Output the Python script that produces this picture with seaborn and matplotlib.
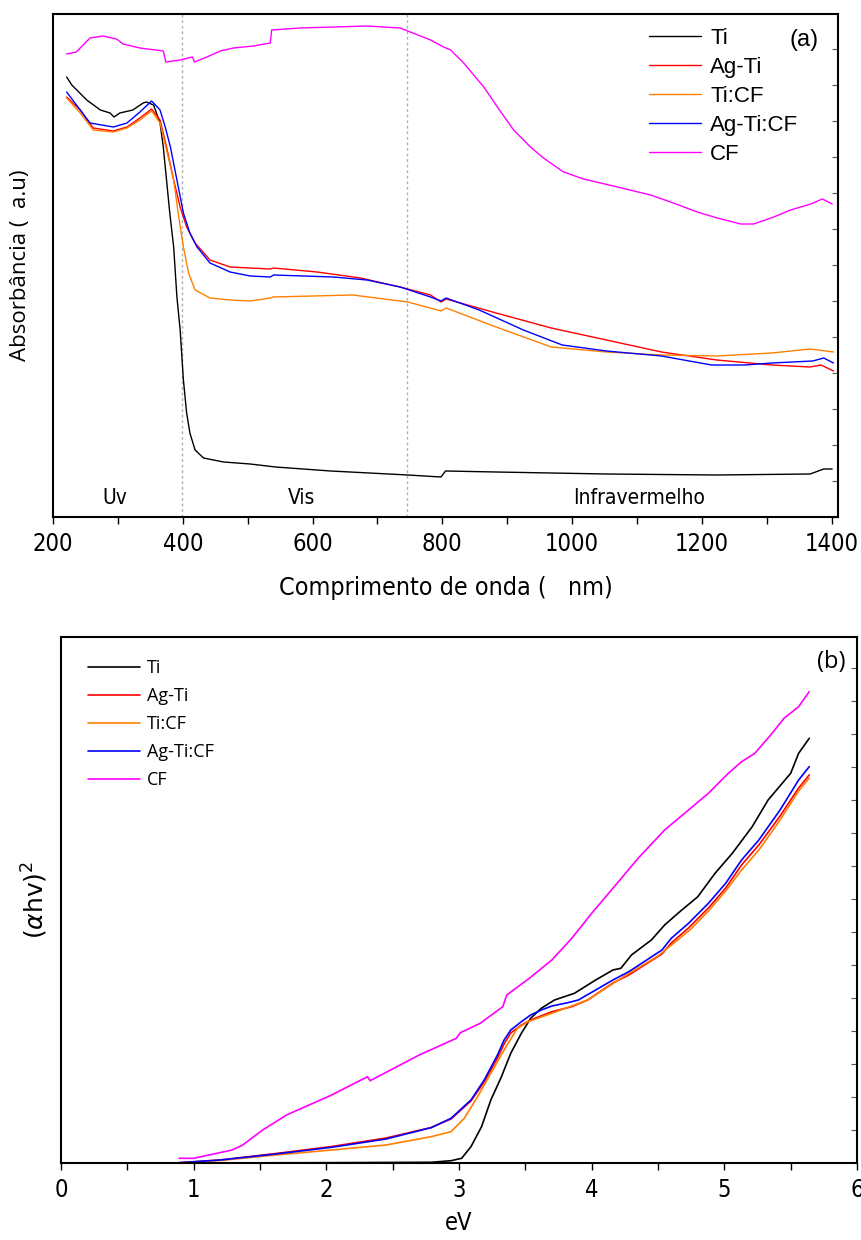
import numpy as np
import pandas as pd
import matplotlib
matplotlib.use("Agg")
import matplotlib.pyplot as plt
import seaborn as sns
from matplotlib.ticker import MultipleLocator, NullFormatter

sns.set_theme(style="white")
plt.rcParams['font.family'] = ['Open Sans', 'DejaVu Sans']
plt.rcParams['text.color'] = 'black'
plt.rcParams['axes.labelcolor'] = 'black'
plt.rcParams['xtick.color'] = 'black'

series_names = ["Ti", "Ag-Ti", "Ti:CF", "Ag-Ti:CF", "CF"]
colors = ["#000000", "#ff0000", "#ff8000", "#0000ff", "#ff00ff"]

# ---- Panel (a): absorbance vs wavelength ----
ti_wl = [221, 229, 252, 273, 288, 294, 303, 323, 339, 344, 355, 365, 370, 375, 380, 386, 391, 396, 401, 406, 411, 419, 432, 463, 504, 543, 628, 747, 798, 805, 883, 1053, 1223, 1367, 1388, 1401]
ti_abs = [4.40, 4.32, 4.17, 4.07, 4.04, 4.00, 4.04, 4.07, 4.14, 4.15, 4.12, 3.94, 3.70, 3.37, 3.04, 2.70, 2.20, 1.87, 1.37, 1.04, 0.84, 0.67, 0.59, 0.55, 0.53, 0.50, 0.46, 0.42, 0.40, 0.46, 0.45, 0.43, 0.42, 0.43, 0.48, 0.48]

agti_wl = [221, 242, 262, 293, 314, 334, 352, 365, 375, 386, 396, 406, 419, 442, 473, 504, 535, 540, 607, 674, 735, 782, 798, 806, 883, 968, 1053, 1138, 1223, 1308, 1367, 1384, 1403]
agti_abs = [4.20, 4.07, 3.89, 3.86, 3.90, 3.99, 4.08, 3.97, 3.70, 3.37, 3.10, 2.90, 2.74, 2.57, 2.50, 2.49, 2.48, 2.49, 2.45, 2.39, 2.30, 2.22, 2.15, 2.18, 2.04, 1.89, 1.77, 1.65, 1.57, 1.52, 1.50, 1.52, 1.46]

ticf_wl = [221, 242, 262, 293, 314, 334, 352, 365, 375, 386, 393, 401, 409, 419, 442, 473, 504, 535, 539, 662, 747, 798, 806, 883, 968, 1053, 1138, 1223, 1308, 1367, 1403]
ticf_abs = [4.19, 4.04, 3.87, 3.85, 3.89, 3.97, 4.06, 3.94, 3.67, 3.37, 3.04, 2.70, 2.44, 2.27, 2.19, 2.17, 2.16, 2.19, 2.20, 2.22, 2.15, 2.06, 2.09, 1.90, 1.70, 1.65, 1.62, 1.61, 1.64, 1.68, 1.65]

agticf_wl = [221, 242, 257, 293, 314, 334, 352, 365, 373, 381, 391, 401, 411, 422, 442, 473, 504, 535, 540, 632, 684, 735, 782, 798, 806, 857, 925, 985, 1053, 1138, 1215, 1266, 1308, 1371, 1388, 1403]
agticf_abs = [4.25, 4.07, 3.94, 3.90, 3.94, 4.05, 4.16, 4.07, 3.90, 3.70, 3.37, 3.04, 2.84, 2.70, 2.54, 2.45, 2.41, 2.40, 2.42, 2.40, 2.37, 2.30, 2.20, 2.16, 2.19, 2.07, 1.87, 1.72, 1.66, 1.61, 1.52, 1.52, 1.54, 1.56, 1.59, 1.54]

cf_wl = [221, 236, 257, 277, 298, 308, 334, 370, 374, 396, 415, 418, 437, 458, 478, 509, 535, 537, 581, 633, 684, 735, 782, 802, 813, 833, 864, 885, 910, 936, 956, 987, 1018, 1070, 1121, 1152, 1193, 1224, 1260, 1280, 1311, 1337, 1368, 1386, 1401]
cf_abs = [4.63, 4.65, 4.79, 4.81, 4.78, 4.73, 4.69, 4.66, 4.55, 4.57, 4.60, 4.55, 4.60, 4.66, 4.69, 4.71, 4.74, 4.87, 4.89, 4.90, 4.91, 4.89, 4.77, 4.70, 4.67, 4.54, 4.30, 4.10, 3.87, 3.70, 3.59, 3.45, 3.38, 3.30, 3.22, 3.15, 3.05, 2.99, 2.93, 2.93, 3.00, 3.07, 3.13, 3.18, 3.13]

region_labels = ["Uv", "Vis", "Infravermelho"]
region_pos = [295, 583, 1103]
region_bounds = [399, 745]

# ---- Panel (b): Tauc plot ----
ti_ev = [0.89, 2.0, 2.79, 2.94, 3.02, 3.09, 3.17, 3.24, 3.32, 3.39, 3.47, 3.54, 3.62, 3.72, 3.87, 4.03, 4.16, 4.22, 4.30, 4.45, 4.55, 4.65, 4.80, 4.93, 5.06, 5.21, 5.33, 5.50, 5.56, 5.64]
ti_tauc = [0.0, 0.003, 0.007, 0.023, 0.047, 0.163, 0.363, 0.63, 0.863, 1.097, 1.297, 1.447, 1.547, 1.63, 1.697, 1.83, 1.93, 1.947, 2.08, 2.23, 2.38, 2.497, 2.663, 2.897, 3.097, 3.363, 3.63, 3.897, 4.097, 4.247]

agti_ev = [0.89, 1.2, 1.62, 2.04, 2.45, 2.79, 2.94, 3.09, 3.19, 3.29, 3.34, 3.39, 3.47, 3.54, 3.70, 3.85, 3.97, 4.16, 4.28, 4.53, 4.60, 4.73, 4.88, 5.01, 5.13, 5.26, 5.42, 5.56, 5.64]
agti_tauc = [0.003, 0.03, 0.095, 0.165, 0.25, 0.355, 0.44, 0.62, 0.81, 1.05, 1.19, 1.30, 1.38, 1.43, 1.513, 1.563, 1.63, 1.80, 1.88, 2.09, 2.20, 2.35, 2.55, 2.75, 2.98, 3.18, 3.47, 3.75, 3.88]

ticf_ev = [0.89, 1.2, 1.62, 2.04, 2.45, 2.79, 2.94, 3.04, 3.14, 3.24, 3.34, 3.44, 3.52, 3.70, 3.97, 4.24, 4.50, 4.74, 4.88, 5.01, 5.13, 5.26, 5.42, 5.56, 5.64]
ticf_tauc = [0.003, 0.025, 0.08, 0.13, 0.18, 0.263, 0.313, 0.447, 0.663, 0.897, 1.13, 1.347, 1.413, 1.497, 1.63, 1.863, 2.07, 2.33, 2.52, 2.72, 2.93, 3.13, 3.43, 3.72, 3.85]

agticf_ev = [0.89, 1.2, 1.62, 2.04, 2.45, 2.79, 2.94, 3.09, 3.19, 3.29, 3.34, 3.39, 3.47, 3.54, 3.62, 3.70, 3.82, 3.90, 4.03, 4.16, 4.28, 4.53, 4.60, 4.73, 4.88, 5.01, 5.13, 5.26, 5.42, 5.56, 5.64]
agticf_tauc = [0.003, 0.03, 0.09, 0.157, 0.24, 0.353, 0.447, 0.63, 0.83, 1.08, 1.23, 1.33, 1.413, 1.48, 1.53, 1.57, 1.603, 1.63, 1.73, 1.83, 1.913, 2.13, 2.247, 2.397, 2.597, 2.797, 3.03, 3.23, 3.53, 3.83, 3.963]

cf_ev = [0.89, 1.0, 1.29, 1.37, 1.52, 1.70, 2.04, 2.31, 2.33, 2.70, 2.98, 3.01, 3.16, 3.33, 3.36, 3.53, 3.70, 3.85, 4.00, 4.17, 4.35, 4.55, 4.73, 4.88, 5.03, 5.13, 5.23, 5.36, 5.45, 5.56, 5.64]
cf_tauc = [0.047, 0.047, 0.13, 0.18, 0.33, 0.48, 0.68, 0.863, 0.823, 1.08, 1.247, 1.303, 1.397, 1.563, 1.68, 1.847, 2.03, 2.247, 2.497, 2.763, 3.047, 3.33, 3.53, 3.697, 3.897, 4.013, 4.097, 4.297, 4.447, 4.563, 4.713]


def long_df(xs, ys, xname, yname):
    frames = []
    for name, x, y in zip(series_names, xs, ys):
        frames.append(pd.DataFrame({xname: x, yname: y, "amostra": name}))
    return pd.concat(frames, ignore_index=True)


df_a = long_df([ti_wl, agti_wl, ticf_wl, agticf_wl, cf_wl],
               [ti_abs, agti_abs, ticf_abs, agticf_abs, cf_abs], "wl", "abs")
df_b = long_df([ti_ev, agti_ev, ticf_ev, agticf_ev, cf_ev],
               [ti_tauc, agti_tauc, ticf_tauc, agticf_tauc, cf_tauc], "ev", "tauc")

palette = dict(zip(series_names, colors))

fig = plt.figure(figsize=(8.61, 12.40), dpi=100)
ax1 = fig.add_axes([53 / 861, 1 - 517 / 1240, (838 - 53) / 861, (517 - 14) / 1240])
ax2 = fig.add_axes([61 / 861, 1 - 1163 / 1240, (857 - 61) / 861, (1163 - 637) / 1240])

narrow = ['DejaVu Sans']

# Panel (a)
sns.lineplot(data=df_a, x="wl", y="abs", hue="amostra", palette=palette,
             hue_order=series_names, sort=False, estimator=None, lw=1.0, ax=ax1)
ax1.set_xlim(200, 1410)
ax1.set_ylim(0, 5.03)
for b in region_bounds:
    ax1.axvline(b, color="#b0b0b0", ls=(0, (2, 2)), lw=1.0, zorder=0)
for lab, pos in zip(region_labels, region_pos):
    ax1.text(pos, 0.19, lab, ha="center", va="center", fontsize=15, family=narrow, fontstretch='condensed')
ax1.text(0.975, 0.97, "(a)", transform=ax1.transAxes, ha="right", va="top", fontsize=17,
         family=['Liberation Sans', 'DejaVu Sans'])
ax1.set_xlabel("Comprimento de onda (   nm)", fontsize=18, family=narrow, fontstretch='condensed', labelpad=14)
ax1.set_ylabel("Absorbância (  a.u)", fontsize=16, labelpad=12)
ax1.xaxis.set_major_locator(MultipleLocator(200))
ax1.xaxis.set_minor_locator(MultipleLocator(100))
ax1.yaxis.set_major_locator(MultipleLocator(0.36))
ax1.yaxis.set_major_formatter(NullFormatter())
ax1.tick_params(axis="x", which="both", direction="out", length=5, width=1, bottom=True, labelsize=17, pad=6)
ax1.tick_params(axis="y", which="both", direction="in", length=4, width=0.8, left=False, right=True, colors="#555555")
for lab in ax1.get_xticklabels():
    lab.set_family(narrow)
    lab.set_fontstretch('condensed')
h, l = ax1.get_legend_handles_labels()
ax1.legend(h, l, loc="upper left", bbox_to_anchor=(0.745, 0.995), frameon=False,
           handlelength=2.35, handletextpad=0.4, labelspacing=0.36,
           borderpad=0, prop={'family': ['Liberation Sans', 'DejaVu Sans'], 'size': 16})

# Panel (b)
sns.lineplot(data=df_b, x="ev", y="tauc", hue="amostra", palette=palette,
             hue_order=series_names, sort=False, estimator=None, lw=1.2, ax=ax2)
ax2.set_xlim(0, 6)
ax2.set_ylim(0, 5.26)
ax2.set_xlabel("eV", fontsize=17, family=narrow, fontstretch='condensed', labelpad=6)
ax2.set_ylabel(r"$(\alpha\mathrm{hv})^2$", fontsize=18, labelpad=4)
ax2.xaxis.set_major_locator(MultipleLocator(1))
ax2.xaxis.set_minor_locator(MultipleLocator(0.5))
ax2.yaxis.set_major_locator(MultipleLocator(0.33))
ax2.yaxis.set_major_formatter(NullFormatter())
ax2.tick_params(axis="x", which="both", direction="out", length=5, width=1, bottom=True, labelsize=17, pad=6)
ax2.tick_params(axis="y", which="both", direction="in", length=4, width=0.8, left=False, right=True, colors="#555555")
for lab in ax2.get_xticklabels():
    lab.set_family(narrow)
    lab.set_fontstretch('condensed')
ax2.text(0.985, 0.975, "(b)", transform=ax2.transAxes, ha="right", va="top", fontsize=17)
h, l = ax2.get_legend_handles_labels()
ax2.legend(h, l, loc="upper left", bbox_to_anchor=(0.022, 0.975), frameon=False,
           handlelength=2.9, handletextpad=0.4, labelspacing=0.55, borderpad=0,
           prop={'family': ['Open Sans', 'DejaVu Sans'], 'size': 13})

for ax in (ax1, ax2):
    for s in ax.spines.values():
        s.set_color("black")
        s.set_linewidth(1.5)
    ax.tick_params(axis="x", colors="black")

fig.savefig("out.png", dpi=100)
